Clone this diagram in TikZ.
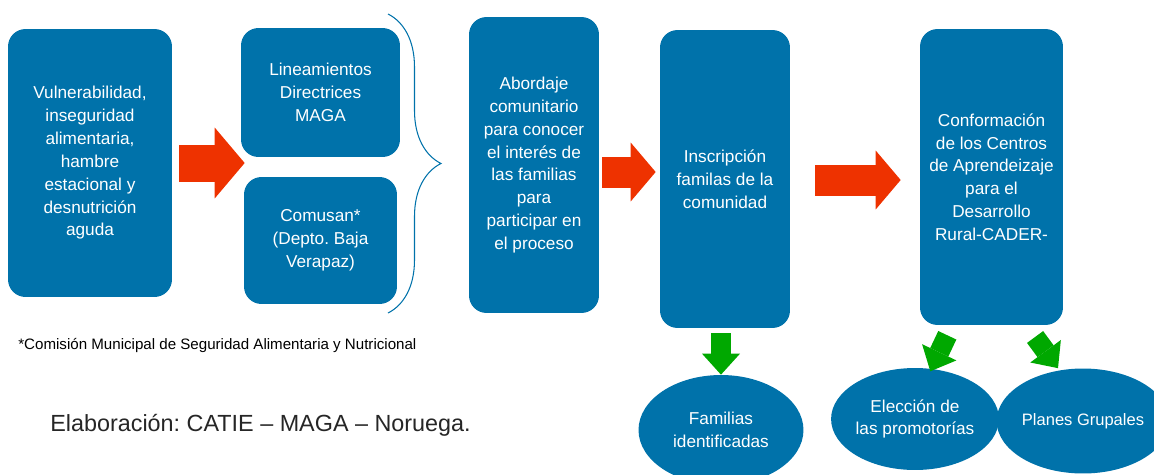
\documentclass[tikz,border=0pt]{standalone}
\usepackage{fontspec}
\setmainfont{Liberation Sans}
\usepackage{tikz}
\usepackage{xcolor}
\usetikzlibrary{positioning, arrows.meta, shapes.geometric, decorations.pathreplacing, calc}

\definecolor{boxblue}{RGB}{0,114,170}
\definecolor{redarr}{RGB}{238,50,0}
\definecolor{greenarr}{RGB}{0,168,0}
\frenchspacing

\begin{document}
\begin{tikzpicture}[
            x=0.02cm, y=-0.02cm,
            stage/.style={rectangle, rounded corners=0.35cm, fill=boxblue, text=white,
                    align=center, inner sep=0pt, font=\fontsize{9.8pt}{13pt}\selectfont},
            result/.style={ellipse, fill=boxblue, text=white, align=center, inner sep=0pt,
                    font=\fontsize{9.8pt}{13pt}\selectfont},
            redarrow/.style={draw=redarr, line width=0.62cm,
                    -{Triangle[length=0.5cm, width=1.18cm, line width=0pt]}},
            greenarrow/.style={draw=greenarr, line width=0.4cm,
                    -{Triangle[length=0.42cm, width=0.76cm, line width=0pt]}},
            bracket/.style={draw=boxblue, line width=0.6pt, decorate,
                    decoration={brace, amplitude=1.06cm}},
            note/.style={anchor=base west, inner sep=0pt},
            ]

            \useasboundingbox (0,0) rectangle (1154,474);

            \node[stage, minimum width=3.28cm, minimum height=5.36cm] (vuln) at (90,163)
                {Vulnerabilidad,\\inseguridad\\alimentaria,\\hambre\\estacional y\\desnutrición\\aguda};
            \node[stage, minimum width=3.18cm, minimum height=2.58cm] (lineam) at (320.5,92.5)
                {Lineamientos\\Directrices\\MAGA};
            \node[stage, minimum width=3.06cm, minimum height=2.54cm] (comusan) at (320.5,240.5)
                {Comusan*\\(Depto. Baja\\Verapaz)};
            \node[stage, minimum width=2.6cm, minimum height=5.92cm] (abord) at (534,165)
                {Abordaje\\comunitario\\para conocer\\el interés de\\las familias\\para\\participar en\\el proceso};
            \node[stage, minimum width=2.6cm, minimum height=5.96cm] (inscr) at (725,179)
                {Inscripción\\familas de la\\comunidad};
            \node[stage, minimum width=2.86cm, minimum height=5.92cm] (cader) at (991.5,177)
                {Conformación\\de los Centros\\de Aprendeizaje\\para el\\Desarrollo\\Rural-CADER-};

            \node[result, minimum width=3.3cm, minimum height=2.2cm] (famid) at (721,430)
                {Familias\\identificadas};
            \node[result, minimum width=3.3cm, minimum height=2.04cm] (elec) at (915,419)
                {Elección de\\las promotorías};
            \node[result, minimum width=3.3cm, minimum height=2.1cm,
                font=\fontsize{9.4pt}{13pt}\selectfont] (planes) at (1083,421)
                {Planes Grupales};

            \node[note, font=\fontsize{8.6pt}{10pt}\selectfont] (foot) at (18,349)
                {*Comisión Municipal de Seguridad Alimentaria y Nutricional};
            \node[note, font=\fontsize{13.3pt}{16pt}\selectfont, text=black!85] (source) at (50,431)
                {Elaboración: CATIE – MAGA – Noruega.};

            \draw[bracket] (388,14) -- (388,313);

            \draw[redarrow, line width=0.74cm,
                -{Triangle[length=0.6cm, width=1.42cm, line width=0pt]},
                shorten <=0.14cm, shorten >=-0.08cm]
                (vuln.east) -- (vuln.east -| lineam.west);
            \draw[redarrow, shorten <=0.06cm, shorten >=0.08cm]
                ([yshift=-0.14cm]abord.east) -- ([yshift=-0.14cm]abord.east -| inscr.west);
            \draw[redarrow, shorten <=0.5cm, shorten >=0.38cm]
                ([yshift=-0.02cm]inscr.east) -- ([yshift=-0.02cm]inscr.east -| cader.west);

            \draw[greenarrow, shorten <=0.1cm] (famid.north |- inscr.south) -- (famid.north);
            \draw[greenarrow, shorten <=0.22cm, shorten >=-0.08cm]
                ([xshift=-0.79cm]cader.south) -- ([xshift=0.34cm]elec.north);
            \draw[greenarrow, shorten <=0.29cm]
                ([xshift=0.7cm]cader.south) -- ([xshift=-0.5cm]planes.north);

        \end{tikzpicture}
\end{document}
